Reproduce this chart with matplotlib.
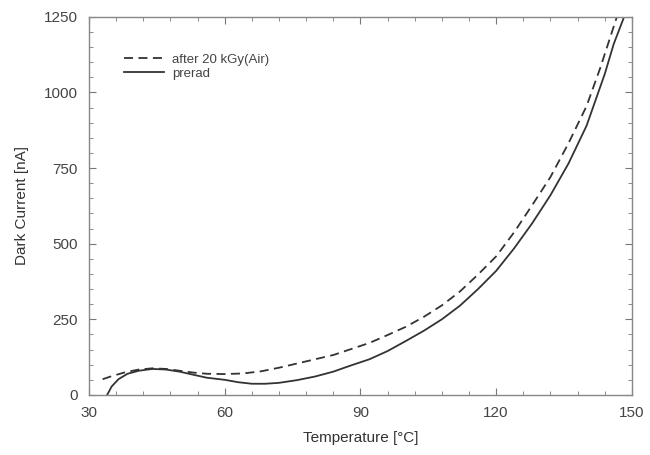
import matplotlib
matplotlib.use("Agg")
import matplotlib.pyplot as plt
from matplotlib.ticker import MultipleLocator

plt.rcParams['font.family'] = ['Liberation Sans', 'DejaVu Sans']

# after 20 kGy(Air)
t_after = [33, 35, 38, 41, 44, 47, 50, 53, 56, 60, 64, 68, 72, 76, 80, 84, 88, 92, 96,
           100, 104, 108, 112, 116, 120, 124, 128, 132, 136, 140, 143, 146.7]
i_after = [52, 62, 75, 84, 88, 86, 80, 74, 70, 69, 71, 78, 90, 104, 118, 132, 152, 172, 198,
           225, 258, 296, 342, 398, 458, 538, 628, 720, 832, 955, 1080, 1250]

# prerad
t_pre = [34, 35, 36.5, 38.5, 41, 44, 47, 50, 53, 56, 60, 63, 66, 69, 72, 76, 80, 84, 88, 92, 96,
         100, 104, 108, 112, 116, 120, 124, 128, 132, 136, 140, 144, 146, 148.3]
i_pre = [0, 28, 52, 70, 80, 86, 84, 77, 67, 57, 50, 42, 37, 37, 40, 49, 61, 77, 98, 118, 145,
         178, 212, 250, 295, 350, 410, 485, 568, 660, 765, 890, 1060, 1160, 1250]

x_ticks = [30, 60, 90, 120, 150]
y_ticks = [0, 250, 500, 750, 1000, 1250]

fig = plt.figure(figsize=(6.5, 4.55), dpi=100)
ax = fig.add_axes([0.137, 0.132, 0.835, 0.831])

ax.plot(t_after, i_after, color='#333333', lw=1.3, ls=(0, (5, 3)), label='after 20 kGy(Air)')
ax.plot(t_pre, i_pre, color='#333333', lw=1.3, ls='-', label='prerad')

ax.set_xlim(30, 150)
ax.set_ylim(0, 1250)
ax.set_xticks(x_ticks)
ax.set_yticks(y_ticks)
ax.xaxis.set_minor_locator(MultipleLocator(6))
ax.yaxis.set_minor_locator(MultipleLocator(50))
ax.tick_params(which='both', direction='in', top=True, right=True, colors='#777777',
               labelcolor='#444444', labelsize=11)
ax.tick_params(which='major', length=5, width=0.8, pad=8)
ax.tick_params(which='minor', length=3, width=0.6)
for s in ax.spines.values():
    s.set_color('#888888')
    s.set_linewidth(1.0)

ax.set_xlabel('Temperature [°C]', fontsize=11, color='#333333', labelpad=8)
ax.set_ylabel('Dark Current [nA]', fontsize=11, color='#333333', labelpad=11)

leg = ax.legend(loc='upper left', bbox_to_anchor=(0.043, 0.935), frameon=False, fontsize=9.5,
                handlelength=3.0, handletextpad=0.6, labelspacing=0.15, labelcolor='#444444')

fig.savefig('out.png', dpi=100)
